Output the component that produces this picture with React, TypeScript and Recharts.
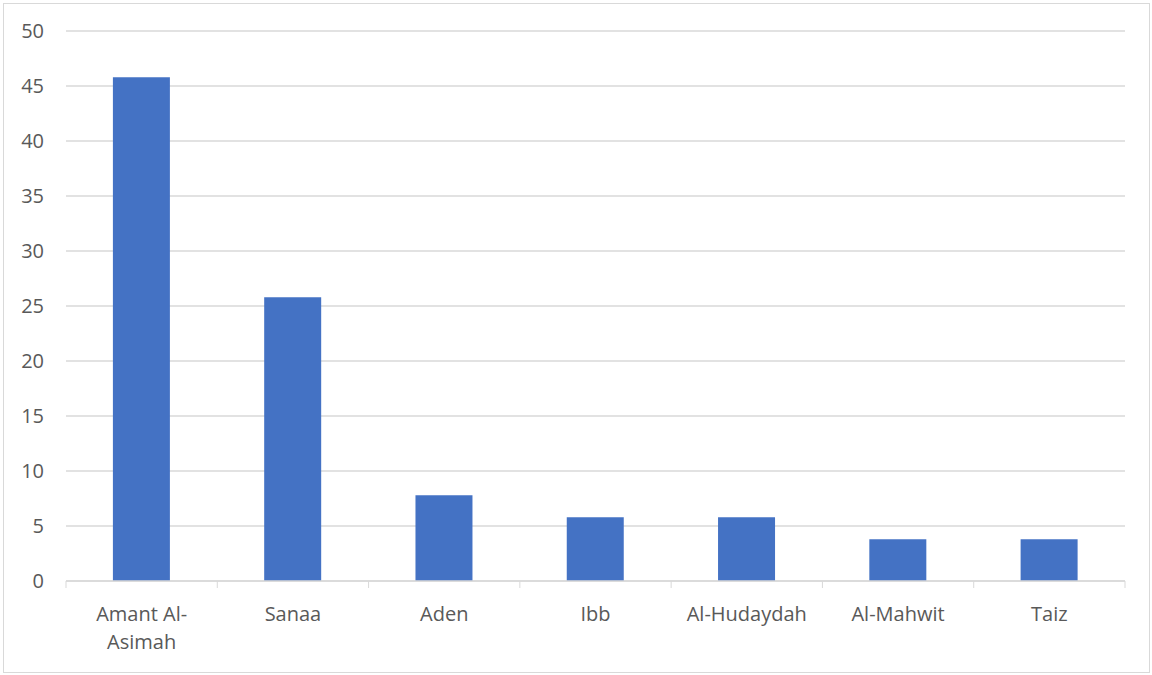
import React from 'react';
import { BarChart, Bar, XAxis, YAxis, CartesianGrid } from 'recharts';

const categories = ['Amant Al-Asimah', 'Sanaa', 'Aden', 'Ibb', 'Al-Hudaydah', 'Al-Mahwit', 'Taiz'];
const values = [45.8, 25.8, 7.8, 5.8, 5.8, 3.8, 3.8];
const yTicks = [0, 5, 10, 15, 20, 25, 30, 35, 40, 45, 50];

const data = categories.map((name, i) => ({ name, value: values[i] }));

const FONT = "'Open Sans', sans-serif";
const TEXT = '#595959';
const GRID = '#d9d9d9';
const FS = 20;

function splitLabel(s: string): string[] {
  if (s.length > 12 && s.indexOf('Al-') > 0) {
    const idx = s.indexOf('Al-') + 3;
    return [s.slice(0, idx), s.slice(idx)];
  }
  return [s];
}

const XTick = (props: any) => {
  const { x, y, payload, index, visibleTicksCount } = props;
  const half = payload && payload.offset ? payload.offset : 0;
  const lines = splitLabel(String(payload.value));
  const axisY = y;
  return (
    <g>
      <line x1={x - half} x2={x - half} y1={axisY - 8} y2={axisY - 1} stroke={GRID} strokeWidth={1} />
      {index === visibleTicksCount - 1 && (
        <line x1={x + half} x2={x + half} y1={axisY - 8} y2={axisY - 1} stroke={GRID} strokeWidth={1} />
      )}
      <text x={x} y={axisY + 32} textAnchor="middle" fill={TEXT} fontSize={FS} fontFamily={FONT}>
        {lines.map((l, i) => (
          <tspan key={i} x={x} dy={i === 0 ? 0 : 28}>{l}</tspan>
        ))}
      </text>
    </g>
  );
};

export default function App() {
  return (
    <div style={{ position: 'absolute', left: 0, top: 0, width: 1152, height: 675, background: '#fff' }}>
      <div style={{ position: 'absolute', left: 3, top: 3, width: 1145, height: 668, border: '1px solid #d9d9d9' }} />
      <div style={{ position: 'absolute', left: 0, top: 0 }}>
        <BarChart
          width={1152}
          height={675}
          data={data}
          margin={{ top: 31, right: 27, bottom: 0, left: 0 }}
          barCategoryGap="31%"
        >
          <CartesianGrid vertical={false} stroke={GRID} strokeWidth={1.5} />
          <XAxis
            dataKey="name"
            axisLine={{ stroke: GRID, strokeWidth: 1.5 }}
            tickLine={false}
            tick={<XTick />}
            interval={0}
            height={94}
          />
          <YAxis
            domain={[0, 50]}
            ticks={yTicks}
            axisLine={false}
            tickLine={false}
            width={66}
            tickMargin={16}
            tick={{ fill: TEXT, fontSize: FS, fontFamily: FONT }}
            interval={0}
          />
          <Bar dataKey="value" fill="#4472c4" isAnimationActive={false} />
        </BarChart>
      </div>
    </div>
  );
}
